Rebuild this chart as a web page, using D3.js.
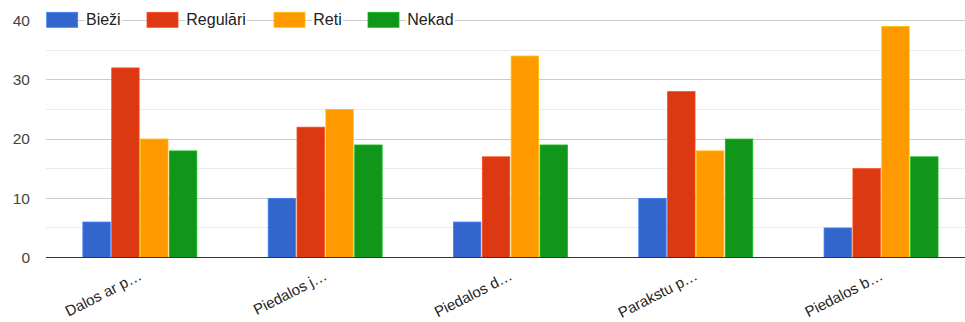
<!DOCTYPE html>
<html>
<head>
<meta charset="utf-8">
<script src="https://cdn.jsdelivr.net/npm/d3@7"></script>
<style>
html,body{margin:0;padding:0;background:#fff;}
svg{display:block;font-family:Arial,"Liberation Sans",sans-serif;}
</style>
</head>
<body>
<div id="chart"></div>
<script>
const categories = ["Dalos ar p…", "Piedalos j…", "Piedalos d…", "Parakstu p…", "Piedalos b…"];
const seriesNames = ["Bieži", "Regulāri", "Reti", "Nekad"];
const biezi    = [6, 10, 6, 10, 5];
const regulari = [32, 22, 17, 28, 15];
const reti     = [20, 25, 34, 18, 39];
const nekad    = [18, 19, 19, 20, 17];
const colors   = ["#3366cc", "#dc3912", "#ff9900", "#109618"];
const majorTicks = [0, 10, 20, 30, 40];
const minorTicks = [5, 15, 25, 35];

const seriesValues = [biezi, regulari, reti, nekad];
const W = 965, H = 322;
const plotLeft = 46, plotRight = 965;

const svg = d3.select("#chart").append("svg").attr("width", W).attr("height", H);

const y = d3.scaleLinear().domain([0, 40]).range([257.6, 20.5]);
const x0 = d3.scaleBand().domain(categories).range([47.2, 973.7]).paddingInner(0.385).paddingOuter(0.1925);
const x1 = d3.scaleBand().domain(seriesNames).range([0, x0.bandwidth()]).paddingInner(0.05);

// minor gridlines
svg.append("g").selectAll("line").data(minorTicks).join("line")
  .attr("x1", plotLeft).attr("x2", plotRight)
  .attr("y1", d => Math.floor(y(d)) + 0.5).attr("y2", d => Math.floor(y(d)) + 0.5)
  .attr("stroke", "#ebebeb").attr("stroke-width", 1);
// major gridlines
svg.append("g").selectAll("line").data(majorTicks.filter(d => d !== 0)).join("line")
  .attr("x1", plotLeft).attr("x2", plotRight)
  .attr("y1", d => Math.floor(y(d)) + 0.5).attr("y2", d => Math.floor(y(d)) + 0.5)
  .attr("stroke", "#cccccc").attr("stroke-width", 1);

// y labels
svg.append("g").selectAll("text").data(majorTicks).join("text")
  .attr("x", 30).attr("y", d => y(d)).attr("dy", "0.35em")
  .attr("text-anchor", "end").attr("font-size", 15.5).attr("fill", "#444")
  .text(d => d);

// bars
const groups = svg.append("g").selectAll("g").data(categories).join("g")
  .attr("transform", d => `translate(${x0(d)},0)`);
groups.selectAll("rect").data((c, i) => seriesNames.map((s, j) => ({s, j, v: seriesValues[j][i]})))
  .join("rect")
  .attr("x", d => x1(d.s)).attr("width", x1.bandwidth())
  .attr("y", d => y(d.v)).attr("height", d => y(0) - y(d.v))
  .attr("fill", d => colors[d.j])
  .attr("stroke", d => d3.color(colors[d.j]).brighter(0.6)).attr("stroke-width", 0.8);

// baseline
svg.append("line").attr("x1", plotLeft).attr("x2", plotRight)
  .attr("y1", Math.floor(y(0)) + 0.5).attr("y2", Math.floor(y(0)) + 0.5)
  .attr("stroke", "#333").attr("stroke-width", 1);

// x labels
svg.append("g").selectAll("text").data(categories).join("text")
  .attr("transform", d => `translate(${x0(d) + x0.bandwidth()/2 + 3},${279}) rotate(-27)`)
  .attr("text-anchor", "end").attr("font-size", 15).attr("fill", "#222")
  .text(d => d);

// legend
const legendSwatchX = [46.7, 147, 274, 368];
const leg = svg.append("g");
seriesNames.forEach((s, j) => {
  const g = leg.append("g").attr("transform", `translate(${legendSwatchX[j]},12.3)`);
  g.append("rect").attr("width", 31).attr("height", 15)
    .attr("fill", colors[j]).attr("stroke", d3.color(colors[j]).brighter(0.6)).attr("stroke-width", 0.8);
  const bg = g.append("rect").attr("fill", "#fff");
  const t = g.append("text").attr("x", 39.3).attr("y", 7.5).attr("dy", "0.3em")
    .attr("font-size", 16).attr("fill", "#222").text(s);
  const bb = t.node().getBBox();
  bg.attr("x", bb.x - 1).attr("y", bb.y + 2).attr("width", bb.width + 2).attr("height", bb.height - 4);
});
</script>
</body>
</html>
